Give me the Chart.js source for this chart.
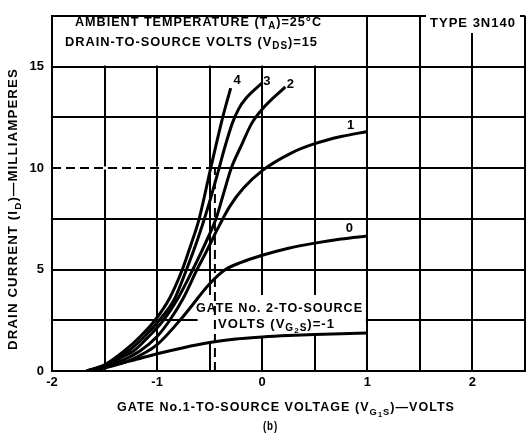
<!DOCTYPE html>
<html>
<head>
<meta charset="utf-8">
<script src="https://cdn.jsdelivr.net/npm/chart.js@4.4.1/dist/chart.umd.min.js"></script>
<style>
  html, body { margin: 0; padding: 0; background: #fff; }
  #wrap { width: 530px; height: 441px; }
</style>
</head>
<body>
<div id="wrap"><canvas id="myChart" width="530" height="441"></canvas></div>
<script>
// drain current (mA) vs gate 1 voltage (V), one curve per gate 2 voltage
var xM1 = [-1.67, -1.5, -1.25, -1.0, -0.75, -0.5, -0.25, 0, 0.25, 0.5, 0.75, 1.0];
var yM1 = [0, 0.2, 0.5, 0.85, 1.15, 1.4, 1.58, 1.68, 1.75, 1.8, 1.84, 1.87];

var x0 = [-1.67, -1.5, -1.25, -1.0, -0.75, -0.5, -0.35, -0.2, 0, 0.25, 0.5, 0.75, 1.0];
var y0 = [0, 0.15, 0.55, 1.3, 2.7, 4.3, 5.0, 5.35, 5.7, 6.05, 6.3, 6.5, 6.65];

var x1 = [-1.67, -1.5, -1.3, -1.16, -1.0, -0.88, -0.75, -0.62, -0.52, -0.425, -0.31, -0.18, 0, 0.28, 0.5, 0.75, 1.0];
var y1 = [0, 0.2, 0.6, 1.0, 1.7, 2.5, 3.6, 5.0, 6.0, 7.0, 8.1, 9.0, 9.87, 10.75, 11.2, 11.55, 11.8];

var x2 = [-1.67, -1.5, -1.35, -1.22, -1.08, -0.94, -0.8, -0.66, -0.54, -0.44, -0.376, -0.294, -0.196, -0.1, 0, 0.22];
var y2 = [0, 0.25, 0.65, 1.0, 1.7, 2.5, 3.6, 5.0, 6.3, 7.5, 8.6, 10.0, 11.14, 12.2, 12.9, 14.0];

var x3 = [-1.67, -1.5, -1.4, -1.27, -1.12, -0.98, -0.84, -0.72, -0.62, -0.52, -0.41, -0.36, -0.285, -0.22, -0.16, 0];
var y3 = [0, 0.28, 0.6, 1.0, 1.7, 2.5, 3.5, 5.0, 6.4, 8.0, 10.0, 10.95, 12.2, 12.95, 13.4, 14.2];

var x4 = [-1.67, -1.5, -1.31, -1.16, -1.02, -0.88, -0.76, -0.68, -0.6, -0.49, -0.376, -0.3];
var y4 = [0, 0.3, 1.0, 1.7, 2.5, 3.6, 5.0, 6.2, 7.5, 10.0, 12.5, 13.94];

// curve tags and where they sit (data units)
var curveTags = ["4", "3", "2", "1", "0"];
var tagX = [-0.24, 0.045, 0.267, 0.84, 0.83];
var tagY = [14.3, 14.26, 14.1, 12.1, 7.0];

// dashed reference point
var refV = -0.45;
var refI = 10;

var xTickValues = [-2, -1, 0, 1, 2];
var yTickValues = [0, 5, 10, 15];

function pts(xs, ys) {
  return xs.map(function (x, i) { return { x: x, y: ys[i] }; });
}

function curve(xs, ys) {
  return {
    data: pts(xs, ys),
    borderColor: "#000",
    borderWidth: 3,
    pointRadius: 0,
    fill: false,
    cubicInterpolationMode: "monotone"
  };
}

function dashed(xs, ys) {
  return {
    data: pts(xs, ys),
    borderColor: "#000",
    borderWidth: 2,
    borderDash: [9, 5],
    pointRadius: 0,
    fill: false
  };
}

var FONT = "'Liberation Sans', Arial, sans-serif";

function fontFor(level, size) {
  var s = level === 0 ? size : Math.round(size * (level === 1 ? 0.78 : 0.62));
  return "bold " + s + "px " + FONT;
}

// text with subscripts, squeezed to a given width
function drawRich(ctx, parts, x, y, w, size) {
  ctx.save();
  ctx.letterSpacing = "1px";
  ctx.textBaseline = "middle";
  ctx.textAlign = "left";
  var total = 0;
  parts.forEach(function (p) {
    ctx.font = fontFor(p[1] || 0, size);
    total += ctx.measureText(p[0]).width;
  });
  ctx.translate(x, y);
  ctx.scale(w / total, 1);
  var cx = 0;
  parts.forEach(function (p) {
    var lv = p[1] || 0;
    ctx.font = fontFor(lv, size);
    var dy = lv === 0 ? 0 : (lv === 1 ? size * 0.35 : size * 0.55);
    ctx.fillText(p[0], cx, dy);
    cx += ctx.measureText(p[0]).width;
  });
  ctx.restore();
}

function interp(xs, ys, x) {
  for (var i = 1; i < xs.length; i++) {
    if (x <= xs[i]) {
      var t = (x - xs[i - 1]) / (xs[i] - xs[i - 1]);
      return ys[i - 1] + t * (ys[i] - ys[i - 1]);
    }
  }
  return ys[ys.length - 1];
}

var boxes = {
  id: "boxes",
  beforeDatasetsDraw: function (chart) {
    var ctx = chart.ctx, sx = chart.scales.x, sy = chart.scales.y, a = chart.chartArea;
    ctx.save();
    ctx.fillStyle = "#fff";
    // header box
    ctx.fillRect(a.left + 1.5, a.top + 1.5, sx.getPixelForValue(1) - 1.5 - a.left - 1.5, sy.getPixelForValue(15) - 1 - a.top - 1.5);
    // type box
    ctx.fillRect(426, 13, 94, 20);
    // gate 2 label box, bottom follows the -1 curve
    ctx.beginPath();
    ctx.moveTo(sx.getPixelForValue(-0.63), sy.getPixelForValue(3.75));
    ctx.lineTo(sx.getPixelForValue(1) - 1.5, sy.getPixelForValue(3.75));
    for (var v = 1; v >= -0.63; v -= 0.05) {
      ctx.lineTo(sx.getPixelForValue(Math.min(v, 1)) - (v >= 1 ? 1.5 : 0), sy.getPixelForValue(interp(xM1, yM1, v)));
    }
    ctx.closePath();
    ctx.fill();
    // left part of the 10 mA line is dashed instead
    ctx.strokeStyle = "#fff";
    ctx.lineWidth = 3;
    ctx.beginPath();
    ctx.moveTo(a.left + 1.5, sy.getPixelForValue(refI));
    ctx.lineTo(sx.getPixelForValue(-0.5) - 1.5, sy.getPixelForValue(refI));
    ctx.stroke();
    ctx.restore();
  },
  afterDraw: function (chart) {
    var ctx = chart.ctx, sx = chart.scales.x, sy = chart.scales.y;
    ctx.save();
    ctx.fillStyle = "#000";
    drawRich(ctx, [["AMBIENT TEMPERATURE (T"], ["A", 1], [")=25°C"]], 75, 22, 247, 13);
    drawRich(ctx, [["DRAIN-TO-SOURCE VOLTS (V"], ["DS", 1], [")=15"]], 65, 42, 253, 13);
    drawRich(ctx, [["TYPE 3N140"]], 430, 23, 86, 13);
    drawRich(ctx, [["GATE No. 2-TO-SOURCE"]], 196, 308, 167, 13);
    drawRich(ctx, [["VOLTS (V"], ["G", 1], ["2", 2], ["S", 1], [")=-1"]], 218, 324, 117, 13);
    drawRich(ctx, [["GATE No.1-TO-SOURCE VOLTAGE (V"], ["G", 1], ["1", 2], ["S", 1], [")—VOLTS"]], 117, 408, 338, 12);
    drawRich(ctx, [["(b)"]], 263, 427, 15, 12);
    ctx.save();
    ctx.translate(14, 350);
    ctx.rotate(-Math.PI / 2);
    drawRich(ctx, [["DRAIN CURRENT (I"], ["D", 1], [")—MILLIAMPERES"]], 0, 0, 282, 12);
    ctx.restore();
    ctx.font = "bold 13px " + FONT;
    ctx.textAlign = "center";
    ctx.textBaseline = "middle";
    curveTags.forEach(function (t, i) {
      ctx.fillText(t, sx.getPixelForValue(tagX[i]), sy.getPixelForValue(tagY[i]));
    });
    ctx.restore();
  }
};

var ctx = document.getElementById("myChart").getContext("2d");

var config = {
  type: "line",
  data: {
    datasets: [
      curve(xM1, yM1),
      curve(x0, y0),
      curve(x1, y1),
      curve(x2, y2),
      curve(x3, y3),
      curve(x4, y4),
      dashed([-2, refV], [refI, refI]),
      dashed([refV, refV], [0, refI])
    ]
  },
  options: {
    responsive: false,
    animation: false,
    layout: { padding: { top: 5, right: 5, left: 0, bottom: 0 } },
    plugins: { legend: { display: false }, tooltip: { enabled: false } },
    scales: {
      x: {
        type: "linear",
        min: -2,
        max: 2.5,
        afterFit: function (s) { s.height = 70; },
        afterBuildTicks: function (s) {
          s.ticks = [];
          for (var v = -2; v <= 2.5001; v += 0.5) s.ticks.push({ value: Math.round(v * 10) / 10 });
        },
        ticks: {
          color: "#000",
          padding: 4,
          maxRotation: 0,
          autoSkip: false,
          font: { family: FONT, weight: "bold", size: 13 },
          callback: function (v) { return xTickValues.indexOf(v) >= 0 ? String(v) : ""; }
        },
        grid: { color: "#000", lineWidth: 2, drawTicks: false },
        border: { color: "#000", width: 2 }
      },
      y: {
        type: "linear",
        min: 0,
        max: 17.5,
        afterFit: function (s) { s.width = 52; },
        afterBuildTicks: function (s) {
          s.ticks = [];
          for (var v = 0; v <= 17.5001; v += 2.5) s.ticks.push({ value: v });
        },
        ticks: {
          color: "#000",
          padding: 8,
          autoSkip: false,
          font: { family: FONT, weight: "bold", size: 13 },
          callback: function (v) { return yTickValues.indexOf(v) >= 0 ? String(v) : ""; }
        },
        grid: { color: "#000", lineWidth: 2, drawTicks: false },
        border: { color: "#000", width: 2 }
      }
    }
  },
  plugins: [boxes]
};

var myChart = new Chart(ctx, config);
</script>
</body>
</html>
